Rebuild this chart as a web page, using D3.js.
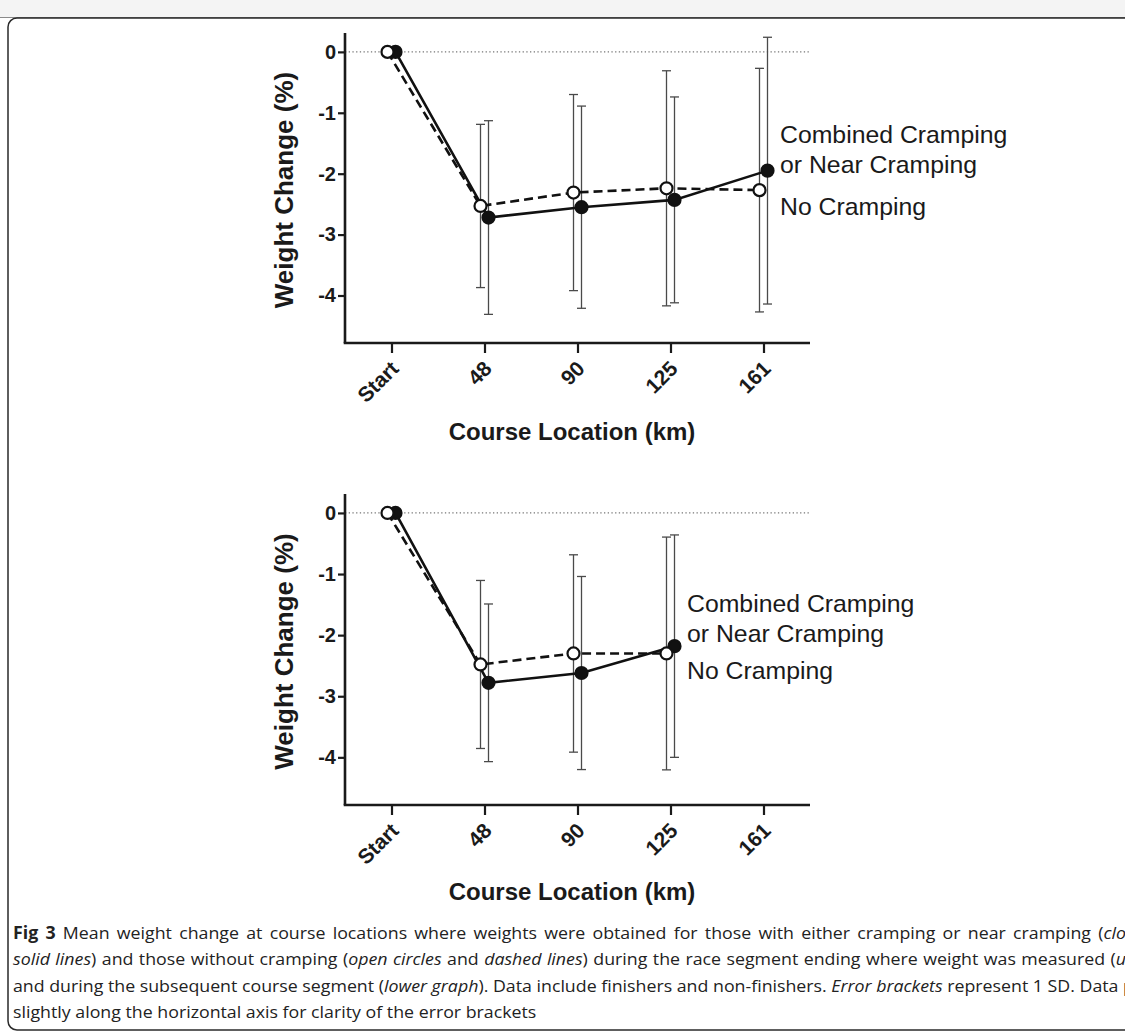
<!DOCTYPE html>
<html>
<head>
<meta charset="utf-8">
<script src="https://cdn.jsdelivr.net/npm/d3@7"></script>
<style>
  html, body { margin: 0; padding: 0; background: #ffffff; overflow: hidden; }
  svg { display: block; }
</style>
</head>
<body>
<svg id="chart" width="1125" height="1033"></svg>
<script>
// ---------------- data ----------------
const categories = ["Start", "48", "90", "125", "161"];
const yTicks = [0, -1, -2, -3, -4];

// upper graph: race segment ending where weight was measured
const upperCrampMean   = [0, -2.72, -2.55, -2.43, -1.95];
const upperCrampSD     = [0,  1.59,  1.66,  1.69,  2.19];
const upperNoCrampMean = [0, -2.53, -2.31, -2.24, -2.27];
const upperNoCrampSD   = [0,  1.34,  1.61,  1.93,  2.00];

// lower graph: subsequent course segment
const lowerCrampMean   = [0, -2.78, -2.62, -2.18, null];
const lowerCrampSD     = [0,  1.29,  1.58,  1.82, null];
const lowerNoCrampMean = [0, -2.48, -2.30, -2.30, null];
const lowerNoCrampSD   = [0,  1.375, 1.615, 1.905, null];

const legendLines = ["Combined Cramping", "or Near Cramping", "No Cramping"];
const yTitle = "Weight Change (%)";
const xTitle = "Course Location (km)";

const captionLines = [
  [["Fig 3", "b"], [" Mean weight change at course locations where weights were obtained for those with either cramping or near cramping (", "n"], ["closed circles", "i"], [" and", "n"]],
  [["solid lines", "i"], [") and those without cramping (", "n"], ["open circles", "i"], [" and ", "n"], ["dashed lines", "i"], [") during the race segment ending where weight was measured (", "n"], ["upper graph", "i"], [")", "n"]],
  [["and during the subsequent course segment (", "n"], ["lower graph", "i"], ["). Data include finishers and non-finishers. ", "n"], ["Error brackets", "i"], [" represent 1 SD. Data points are offset", "n"]],
  [["slightly along the horizontal axis for clarity of the error brackets", "n"]]
];
// justified lines: text up to this marker reaches the right edge of the page
const captionFitMarkers = ["(clo", "(u", "Data p", null];

// ---------------- layout ----------------
const svg = d3.select("#chart");
const W = 1125, H = 1033;
const FONT = "'Liberation Sans', Arial, Helvetica, sans-serif";
const INK = "#1a1a1a";

// page chrome
svg.append("rect").attr("x", 0).attr("y", 0).attr("width", W).attr("height", 17).attr("fill", "#f4f4f4");
svg.append("line").attr("x1", 0).attr("x2", W).attr("y1", 17.5).attr("y2", 17.5).attr("stroke", "#8a8a8a").attr("stroke-width", 1.2);
svg.append("rect").attr("x", 8).attr("y", 18).attr("width", 1300).attr("height", 1012)
  .attr("rx", 9).attr("fill", "none").attr("stroke", "#2a2a2a").attr("stroke-width", 1.5);

const xLeft = 345, xRight = 810;
const x = d3.scalePoint().domain(categories).range([xLeft, xRight]).padding(0.5);
const OFF = 4; // horizontal offset of series for clarity

const panels = [
  { top: 33, bottom: 343, cramp: upperCrampMean, crampSD: upperCrampSD, no: upperNoCrampMean, noSD: upperNoCrampSD,
    legendX: 780, legendY: [143, 173, 215], titleY: 440 },
  { top: 494, bottom: 805, cramp: lowerCrampMean, crampSD: lowerCrampSD, no: lowerNoCrampMean, noSD: lowerNoCrampSD,
    legendX: 687, legendY: [612, 642, 679], titleY: 900 }
];

panels.forEach(p => {
  const y = d3.scaleLinear().domain([-4.78, 0.31]).range([p.bottom, p.top]);
  const g = svg.append("g");

  // zero reference line (dotted)
  g.append("line").attr("x1", xLeft).attr("x2", xRight).attr("y1", y(0)).attr("y2", y(0))
    .attr("stroke", "#777").attr("stroke-width", 1.2).attr("stroke-dasharray", "1.3,2.4");

  // y axis
  const yAxis = d3.axisLeft(y).tickValues(yTicks).tickSize(7).tickPadding(2).tickFormat(d3.format("d"));
  const ya = g.append("g").attr("transform", `translate(${xLeft},0)`).call(yAxis);
  ya.select(".domain").attr("stroke", INK).attr("stroke-width", 2.6).attr("d", `M0,${p.top}V${p.bottom}`);
  ya.selectAll(".tick line").attr("stroke", INK).attr("stroke-width", 2.2);
  ya.selectAll(".tick text").attr("font-family", FONT).attr("font-size", 20).attr("font-weight", "bold").attr("fill", INK)
    .text(d => d === 0 ? "0" : "-" + Math.abs(d));

  // x axis
  const xAxis = d3.axisBottom(x).tickSize(10).tickSizeOuter(0);
  const xa = g.append("g").attr("transform", `translate(0,${p.bottom})`).call(xAxis);
  xa.select(".domain").attr("stroke", INK).attr("stroke-width", 2.6).attr("d", `M${xLeft - 1.3},0H${xRight}`);
  xa.selectAll(".tick line").attr("stroke", INK).attr("stroke-width", 2.2);
  xa.selectAll(".tick text").attr("font-family", FONT).attr("font-size", 21).attr("font-weight", "bold").attr("fill", INK)
    .attr("x", 0).attr("y", 0).attr("dy", 0).attr("text-anchor", "end")
    .attr("transform", "translate(8,27) rotate(-45)");

  // axis titles
  g.append("text").attr("transform", `translate(293,${(p.top + p.bottom) / 2 + 2}) rotate(-90)`)
    .attr("text-anchor", "middle").attr("font-family", FONT).attr("font-size", 26).attr("font-weight", "bold")
    .attr("fill", INK).text(yTitle);
  g.append("text").attr("x", 572).attr("y", p.titleY).attr("text-anchor", "middle")
    .attr("font-family", FONT).attr("font-size", 24).attr("font-weight", "bold").attr("fill", INK).text(xTitle);

  const series = [
    { mean: p.no, sd: p.noSD, dx: -OFF, dash: "9,5", fill: "#ffffff" },
    { mean: p.cramp, sd: p.crampSD, dx: OFF, dash: null, fill: "#111111" }
  ];

  // error brackets
  series.forEach(s => {
    const pts = categories.map((c, i) => ({ c, m: s.mean[i], sd: s.sd[i] })).filter(d => d.m !== null && d.sd > 0);
    const eb = g.append("g").attr("stroke", "#4a4a4a").attr("stroke-width", 1.3).attr("fill", "none");
    pts.forEach(d => {
      const cx = x(d.c) + s.dx;
      eb.append("line").attr("x1", cx).attr("x2", cx).attr("y1", y(d.m + d.sd)).attr("y2", y(d.m - d.sd));
      eb.append("line").attr("x1", cx - 4.5).attr("x2", cx + 4.5).attr("y1", y(d.m + d.sd)).attr("y2", y(d.m + d.sd));
      eb.append("line").attr("x1", cx - 4.5).attr("x2", cx + 4.5).attr("y1", y(d.m - d.sd)).attr("y2", y(d.m - d.sd));
    });
  });

  // lines
  series.forEach(s => {
    const pts = categories.map((c, i) => ({ c, m: s.mean[i] })).filter(d => d.m !== null);
    const line = d3.line().x(d => x(d.c) + s.dx).y(d => y(d.m));
    g.append("path").datum(pts).attr("d", line).attr("fill", "none").attr("stroke", "#111")
      .attr("stroke-width", 2.6).attr("stroke-dasharray", s.dash);
  });

  // markers (filled drawn first so open circles sit on top at the start)
  [series[1], series[0]].forEach(s => {
    const pts = categories.map((c, i) => ({ c, m: s.mean[i] })).filter(d => d.m !== null);
    g.selectAll(null).data(pts).enter().append("circle")
      .attr("cx", d => x(d.c) + s.dx).attr("cy", d => y(d.m)).attr("r", 6)
      .attr("fill", s.fill).attr("stroke", "#111").attr("stroke-width", 2.2);
  });

  // labels
  legendLines.forEach((t, i) => {
    g.append("text").attr("x", p.legendX).attr("y", p.legendY[i])
      .attr("font-family", FONT).attr("font-size", 24.8).attr("fill", INK).text(t);
  });
});

// ---------------- caption ----------------
const cap = svg.append("g").attr("font-family", "'Open Sans', 'Noto Sans', sans-serif").attr("font-size", 17).attr("fill", "#222");
const capBase = [939, 965, 992, 1018];
const capTexts = captionLines.map((segs, li) => {
  const t = cap.append("text").attr("x", 0).attr("y", capBase[li]);
  segs.forEach(([s, k]) => {
    const ts = t.append("tspan").text(s);
    if (k === "b") ts.attr("font-weight", "bold");
    if (k === "i") ts.attr("font-style", "italic");
  });
  return t;
});
const capLeft = 13, lastLineRight = 537;
const w4 = capTexts[3].node().getComputedTextLength();
const sx = (lastLineRight - capLeft) / w4;
cap.attr("transform", `translate(${capLeft},0) scale(${sx},1)`);

// justify the first three lines (they run past the right page edge in the original)
captionLines.forEach((segs, li) => {
  const marker = captionFitMarkers[li];
  if (!marker) return;
  const full = segs.map(s => s[0]).join("");
  const n = full.indexOf(marker) + marker.length;
  const node = capTexts[li].node();
  const len = node.getSubStringLength(0, n);
  const spaces = (full.slice(0, n).match(/ /g) || []).length;
  const target = (W + 1 - capLeft) / sx;
  const ws = Math.max(0, (target - len) / spaces);
  capTexts[li].style("word-spacing", ws + "px");
});
</script>
</body>
</html>
